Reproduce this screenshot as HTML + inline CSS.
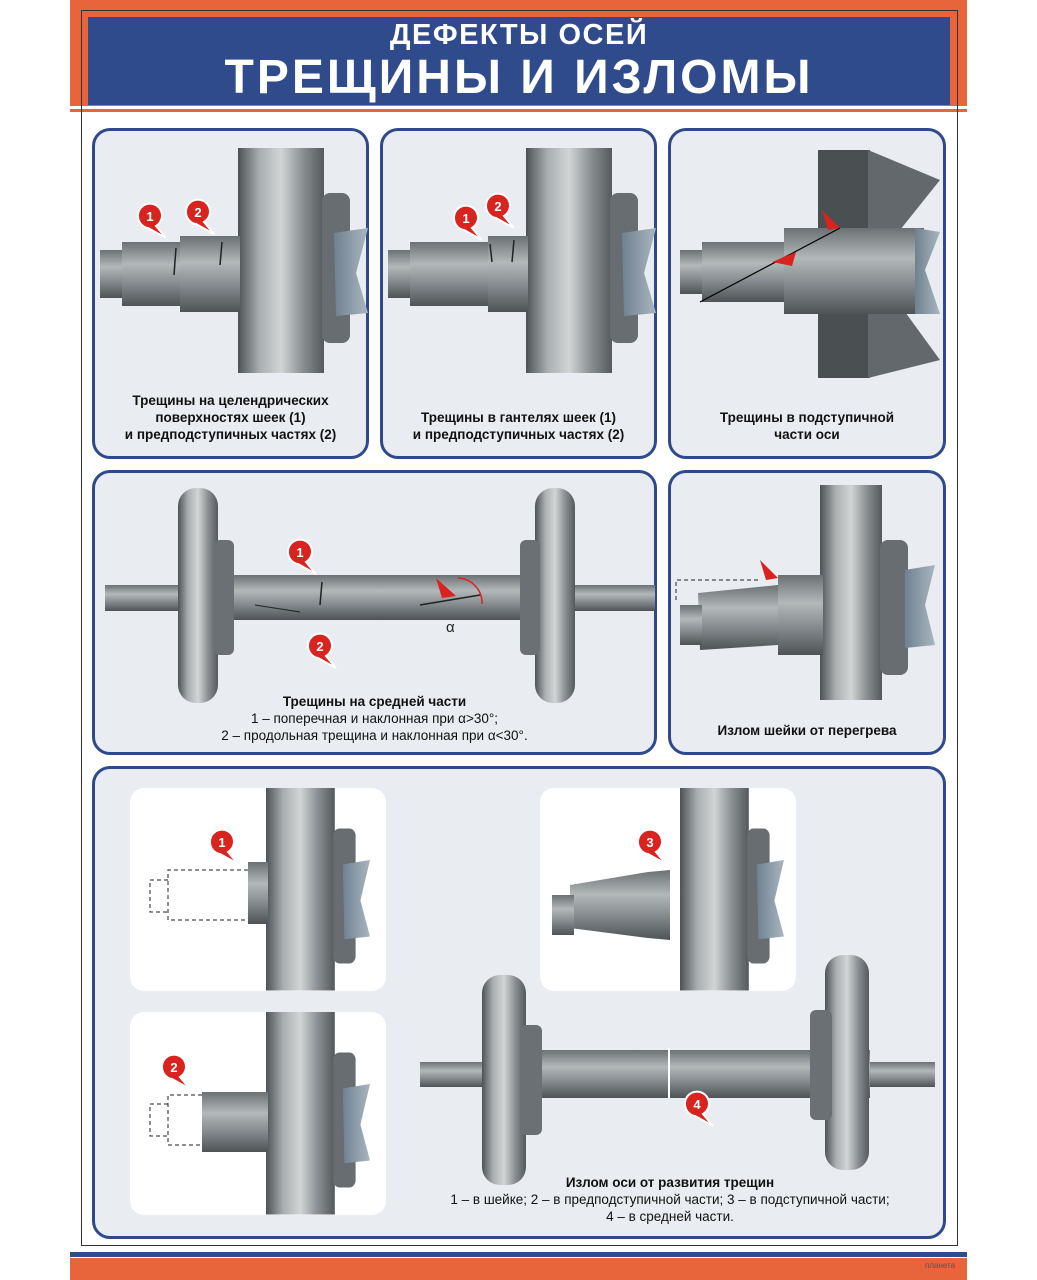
<!DOCTYPE html>
<html><head><meta charset="utf-8"><style>
body{margin:0;width:1037px;height:1280px;background:#fff;position:relative;overflow:hidden;font-family:"Liberation Sans",sans-serif}
.a{position:absolute}
.p{position:absolute;background:#e9ecf0;border:3px solid #2e4a8c;border-radius:18px;box-sizing:border-box}
.w{position:absolute;background:#fff;border-radius:14px}
.t{position:absolute;text-align:center;font-size:13.5px;color:#111;line-height:17px}
b{font-weight:bold}
</style></head><body>
<div class="a" style="left:70px;top:0;width:897px;height:112px;background:#e8643a"></div>
<div class="a" style="left:88px;top:17px;width:862px;height:88px;background:#2f4b8c"></div>
<div class="a" style="left:70px;top:106px;width:897px;height:3px;background:#fff"></div>
<div class="a" style="left:81px;top:10px;width:877px;height:1236px;border:1px solid #333;box-sizing:border-box"></div>
<div class="a" style="left:88px;top:19px;width:862px;text-align:center;color:#fff;font-weight:bold;font-size:29px;letter-spacing:1.5px">ДЕФЕКТЫ ОСЕЙ</div>
<div class="a" style="left:88px;top:50px;width:862px;text-align:center;color:#fff;font-weight:bold;font-size:48px;letter-spacing:3px">ТРЕЩИНЫ И ИЗЛОМЫ</div>

<div class="p" style="left:92px;top:128px;width:277px;height:331px"></div>
<div class="p" style="left:380px;top:128px;width:277px;height:331px"></div>
<div class="p" style="left:668px;top:128px;width:278px;height:331px"></div>
<div class="p" style="left:92px;top:470px;width:565px;height:285px"></div>
<div class="p" style="left:668px;top:470px;width:278px;height:285px"></div>
<div class="p" style="left:92px;top:766px;width:854px;height:473px"></div>
<div class="w" style="left:130px;top:788px;width:256px;height:203px"></div>
<div class="w" style="left:130px;top:1012px;width:256px;height:203px"></div>
<div class="w" style="left:540px;top:788px;width:256px;height:203px"></div>

<div class="a" style="left:70px;top:1252px;width:897px;height:5px;background:#2f4b8c"></div>
<div class="a" style="left:70px;top:1258px;width:897px;height:22px;background:#e8643a"></div>
<div class="a" style="left:925px;top:1261px;font-size:8px;color:#555">планета</div>

<svg class="a" style="left:0;top:0" width="1037" height="1280">
<defs>
<linearGradient id="h" x1="0" x2="1" y1="0" y2="0"><stop offset="0" stop-color="#4d5256"/><stop offset=".25" stop-color="#a9aeb0"/><stop offset=".5" stop-color="#d2d5d5"/><stop offset=".75" stop-color="#8a9093"/><stop offset="1" stop-color="#55595c"/></linearGradient>
<linearGradient id="v" x1="0" x2="0" y1="0" y2="1"><stop offset="0" stop-color="#6b7174"/><stop offset=".35" stop-color="#b3b8b9"/><stop offset=".6" stop-color="#8d9396"/><stop offset="1" stop-color="#4e5356"/></linearGradient>
<linearGradient id="c" x1="0" x2="1"><stop offset="0" stop-color="#6f8190"/><stop offset="1" stop-color="#a9b6c0"/></linearGradient>
<g id="u"><rect x="0" y="0" width="86" height="225" fill="url(#h)"/><rect x="84" y="45" width="28" height="150" rx="8" fill="#676d70"/><polygon points="96,85 130,80 118,125 130,165 98,168" fill="url(#c)"/></g>
<g id="m"><path d="M-12 0 A12 12 0 1 1 6 10 L16 22 L-2 12 A12 12 0 0 1 -12 0Z" fill="#d8231f" stroke="#fff" stroke-width="2"/></g>
</defs>
<!-- panel1 -->
<use href="#u" x="238" y="148"/>
<rect x="100" y="250" width="24" height="48" fill="url(#v)"/><rect x="122" y="242" width="60" height="64" fill="url(#v)"/><rect x="180" y="236" width="60" height="76" fill="url(#v)"/>
<line x1="176" y1="248" x2="174" y2="275" stroke="#222" stroke-width="1.5"/><line x1="222" y1="242" x2="220" y2="265" stroke="#222" stroke-width="1.5"/>
<use href="#m" x="150" y="216"/><text x="150" y="221" font-size="13" font-weight="bold" fill="#fff" text-anchor="middle">1</text>
<use href="#m" x="198" y="212"/><text x="198" y="217" font-size="13" font-weight="bold" fill="#fff" text-anchor="middle">2</text>
<!-- panel2 -->
<use href="#u" x="526" y="148"/>
<rect x="388" y="250" width="24" height="48" fill="url(#v)"/><rect x="410" y="242" width="80" height="64" fill="url(#v)"/><rect x="488" y="236" width="40" height="76" fill="url(#v)"/>
<line x1="490" y1="244" x2="492" y2="262" stroke="#222" stroke-width="1.5"/><line x1="514" y1="240" x2="512" y2="262" stroke="#222" stroke-width="1.5"/>
<use href="#m" x="466" y="218"/><text x="466" y="223" font-size="13" font-weight="bold" fill="#fff" text-anchor="middle">1</text>
<use href="#m" x="498" y="206"/><text x="498" y="211" font-size="13" font-weight="bold" fill="#fff" text-anchor="middle">2</text>
<!-- panel3 -->
<rect x="818" y="150" width="52" height="228" fill="#4a4f52"/><polygon points="868,150 940,180 900,230 868,230" fill="#62686c"/><polygon points="868,305 900,305 940,360 868,378" fill="#62686c"/>
<rect x="680" y="250" width="24" height="44" fill="url(#v)"/><rect x="702" y="242" width="84" height="60" fill="url(#v)"/><rect x="784" y="228" width="140" height="86" fill="url(#v)"/><polygon points="915,228 940,232 925,270 940,314 915,314" fill="url(#c)"/>
<line x1="700" y1="302" x2="840" y2="228" stroke="#000" stroke-width="1.2"/>
<polygon points="772,262 796,252 792,266" fill="#d8231f"/><polygon points="822,210 840,228 828,230" fill="#d8231f"/>
<!-- row2 axle -->
<rect x="105" y="585" width="550" height="26" fill="url(#v)"/><rect x="220" y="575" width="320" height="45" fill="url(#v)"/>
<rect x="178" y="488" width="40" height="215" rx="18" fill="url(#h)"/><rect x="214" y="540" width="20" height="115" rx="6" fill="#6a7073"/>
<rect x="535" y="488" width="40" height="215" rx="18" fill="url(#h)"/><rect x="520" y="540" width="20" height="115" rx="6" fill="#6a7073"/>
<line x1="322" y1="582" x2="320" y2="605" stroke="#222" stroke-width="1.5"/><line x1="255" y1="605" x2="300" y2="612" stroke="#222"/><line x1="420" y1="605" x2="480" y2="595" stroke="#222" stroke-width="1.5"/>
<polygon points="436,578 456,596 442,598" fill="#d8231f"/>
<path d="M458 578 A25 25 0 0 1 482 604" fill="none" stroke="#d8231f" stroke-width="1.5"/>
<text x="446" y="632" font-size="15" fill="#222">α</text>
<use href="#m" x="300" y="552"/><text x="300" y="557" font-size="13" font-weight="bold" fill="#fff" text-anchor="middle">1</text>
<use href="#m" x="320" y="646"/><text x="320" y="651" font-size="13" font-weight="bold" fill="#fff" text-anchor="middle">2</text>
<!-- row2 right -->
<rect x="820" y="485" width="62" height="215" fill="url(#h)"/><rect x="880" y="540" width="28" height="135" rx="8" fill="#676d70"/><polygon points="905,570 935,565 925,605 935,645 905,648" fill="url(#c)"/>
<rect x="778" y="575" width="45" height="80" fill="url(#v)"/>
<polygon points="698,593 778,585 778,645 700,650" fill="url(#v)"/><rect x="680" y="605" width="22" height="40" fill="url(#v)"/>
<path d="M676 600 L676 580 L760 580" fill="none" stroke="#222" stroke-dasharray="4,3"/>
<polygon points="760,560 778,578 766,580" fill="#d8231f"/>
<!-- bottom panel -->
<use href="#u" transform="translate(266,788) scale(0.8,0.9)"/><rect x="248" y="862" width="20" height="62" fill="url(#v)"/>
<path d="M248 870 H168 V920 H248 M168 880 H150 V912 H168" fill="none" stroke="#222" stroke-dasharray="4,3"/>
<use href="#m" x="222" y="842"/><text x="222" y="847" font-size="13" font-weight="bold" fill="#fff" text-anchor="middle">1</text>
<use href="#u" transform="translate(266,1012) scale(0.8,0.9)"/><rect x="202" y="1092" width="66" height="60" fill="url(#v)"/>
<path d="M202 1095 H168 V1145 H202 M168 1104 H150 V1136 H168" fill="none" stroke="#222" stroke-dasharray="4,3"/>
<use href="#m" x="174" y="1067"/><text x="174" y="1072" font-size="13" font-weight="bold" fill="#fff" text-anchor="middle">2</text>
<use href="#u" transform="translate(680,788) scale(0.8,0.9)"/>
<polygon points="570,885 648,872 670,870 670,940 648,938 570,928" fill="url(#v)"/><rect x="552" y="895" width="22" height="40" fill="url(#v)"/>
<use href="#m" x="650" y="842"/><text x="650" y="847" font-size="13" font-weight="bold" fill="#fff" text-anchor="middle">3</text>
<rect x="420" y="1062" width="515" height="25" fill="url(#v)"/><rect x="530" y="1050" width="340" height="48" fill="url(#v)"/>
<rect x="482" y="975" width="44" height="210" rx="18" fill="url(#h)"/><rect x="520" y="1025" width="22" height="110" rx="6" fill="#6a7073"/>
<rect x="825" y="955" width="44" height="215" rx="18" fill="url(#h)"/><rect x="810" y="1010" width="22" height="110" rx="6" fill="#6a7073"/>
<line x1="669" y1="1048" x2="669" y2="1098" stroke="#fff" stroke-width="2"/>
<use href="#m" x="697" y="1104"/><text x="697" y="1109" font-size="13" font-weight="bold" fill="#fff" text-anchor="middle">4</text>
</svg>

<div class="t" style="left:92px;top:392px;width:277px"><b>Трещины на целендрических<br>поверхностях шеек (1)<br>и предподступичных частях (2)</b></div>
<div class="t" style="left:380px;top:409px;width:277px"><b>Трещины в гантелях шеек (1)<br>и предподступичных частях (2)</b></div>
<div class="t" style="left:668px;top:409px;width:278px"><b>Трещины в подступичной<br>части оси</b></div>
<div class="t" style="left:92px;top:693px;width:565px"><b>Трещины на средней части</b><br>1 – поперечная и наклонная при α&gt;30°;<br>2 – продольная трещина и наклонная при α&lt;30°.</div>
<div class="t" style="left:668px;top:722px;width:278px"><b>Излом шейки от перегрева</b></div>
<div class="t" style="left:400px;top:1174px;width:540px"><b>Излом оси от развития трещин</b><br>1 – в шейке; 2 – в предподступичной части; 3 – в подступичной части;<br>4 – в средней части.</div>
</body></html>
